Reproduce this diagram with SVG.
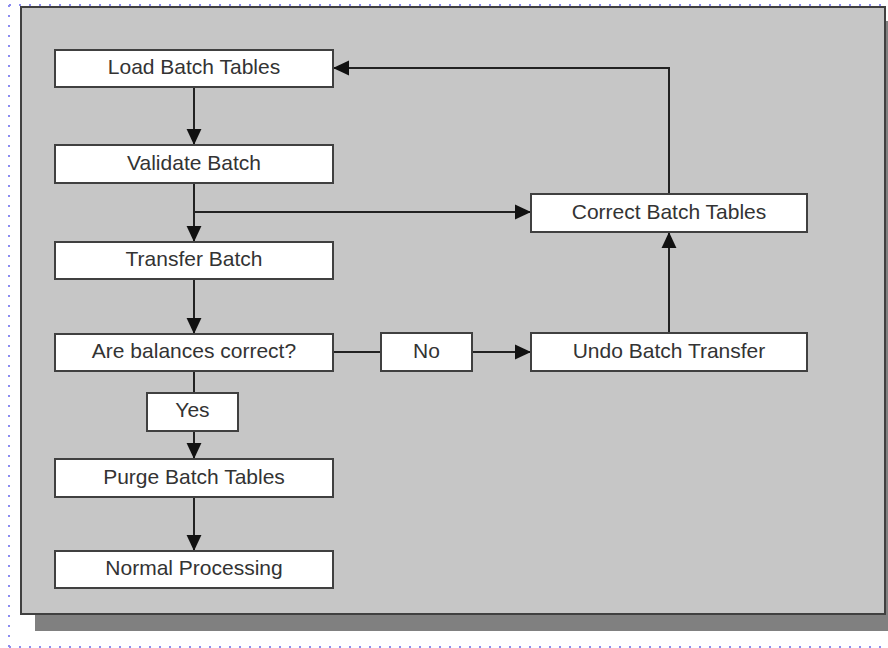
<svg xmlns="http://www.w3.org/2000/svg" width="888" height="648" viewBox="0 0 888 648">
<defs>
<style>
.node rect{fill:#ffffff;stroke:#404040;stroke-width:2}
.node text{font-family:"Liberation Sans",Arial,sans-serif;font-size:21px;fill:#333333;text-anchor:middle}
.conn{fill:none;stroke:#222222;stroke-width:2}
.dots{fill:none;stroke:#8c8cf0;stroke-width:2;stroke-dasharray:2 8}
</style>
<marker id="arr" markerUnits="userSpaceOnUse" markerWidth="16" markerHeight="16" viewBox="0 0 14 14" refX="14" refY="7" orient="auto">
<path d="M0,0.5 L14,7 L0,13.5 Z" fill="#111111"/>
</marker>
</defs>
<rect x="0" y="0" width="888" height="648" fill="#ffffff"/>
<g id="frame">
<line class="dots" x1="9" y1="5" x2="888" y2="5"/>
<line class="dots" x1="9" y1="5" x2="9" y2="648"/>
<line class="dots" x1="9" y1="647" x2="888" y2="647"/>
<rect x="35" y="21" width="860" height="610" fill="#808080"/>
<rect x="21" y="7" width="864" height="607" fill="#c6c6c6" stroke="#404040" stroke-width="2"/>
</g>
<g id="connectors">
<path class="conn" d="M194,87 V145" marker-end="url(#arr)"/>
<path class="conn" d="M194,183 V242" marker-end="url(#arr)"/>
<path class="conn" d="M194,212 H531" marker-end="url(#arr)"/>
<path class="conn" d="M194,279 V334" marker-end="url(#arr)"/>
<path class="conn" d="M333,352 H381"/>
<path class="conn" d="M472,352 H531" marker-end="url(#arr)"/>
<path class="conn" d="M669,333 V232" marker-end="url(#arr)"/>
<path class="conn" d="M669,194 V68 H333" marker-end="url(#arr)"/>
<path class="conn" d="M194,371 V393"/>
<path class="conn" d="M194,431 V459" marker-end="url(#arr)"/>
<path class="conn" d="M194,497 V551" marker-end="url(#arr)"/>
</g>
<g id="load" class="node"><rect x="55" y="50" width="278" height="37"/><text x="194" y="74">Load Batch Tables</text></g>
<g id="validate" class="node"><rect x="55" y="145" width="278" height="38"/><text x="194" y="169.5">Validate Batch</text></g>
<g id="transfer" class="node"><rect x="55" y="242" width="278" height="37"/><text x="194" y="266">Transfer Batch</text></g>
<g id="balances" class="node"><rect x="55" y="334" width="278" height="37"/><text x="194" y="358">Are balances correct?</text></g>
<g id="yes" class="node"><rect x="147" y="393" width="91" height="38"/><text x="192.5" y="417">Yes</text></g>
<g id="purge" class="node"><rect x="55" y="459" width="278" height="38"/><text x="194" y="483.5">Purge Batch Tables</text></g>
<g id="normal" class="node"><rect x="55" y="551" width="278" height="37"/><text x="194" y="575">Normal Processing</text></g>
<g id="no" class="node"><rect x="381" y="333" width="91" height="38"/><text x="426.5" y="357.5">No</text></g>
<g id="undo" class="node"><rect x="531" y="333" width="276" height="38"/><text x="669" y="357.5">Undo Batch Transfer</text></g>
<g id="correct" class="node"><rect x="531" y="194" width="276" height="38"/><text x="669" y="218.5">Correct Batch Tables</text></g>
</svg>
